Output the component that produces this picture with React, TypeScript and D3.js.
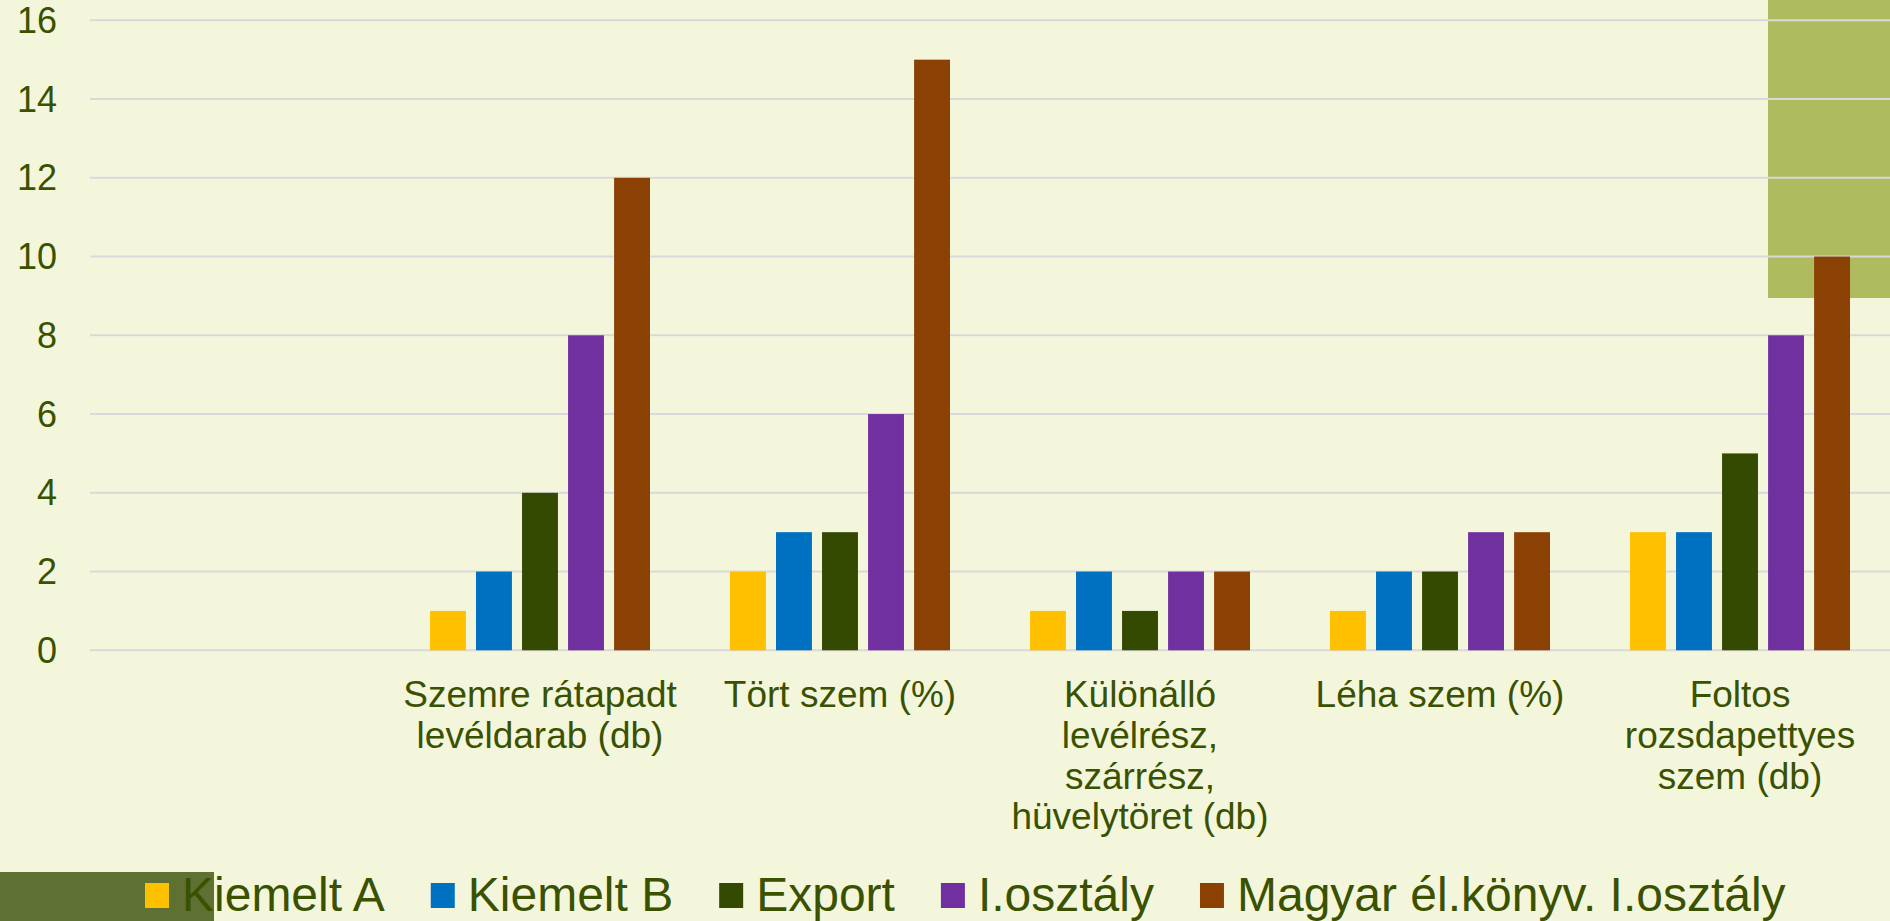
import React, { useRef, useEffect } from 'react';
import * as d3 from 'd3';

// categories (the first slot is empty in the original chart)
const categories = [
  '',
  'Szemre rátapadt levéldarab (db)',
  'Tört szem (%)',
  'Különálló levélrész, szárrész, hüvelytöret (db)',
  'Léha szem (%)',
  'Foltos rozsdapettyes szem (db)',
];
const categoryLines = [
  [],
  ['Szemre rátapadt', 'levéldarab (db)'],
  ['Tört szem (%)'],
  ['Különálló', 'levélrész,', 'szárrész,', 'hüvelytöret (db)'],
  ['Léha szem (%)'],
  ['Foltos', 'rozsdapettyes', 'szem (db)'],
];

const seriesNames = ['Kiemelt A', 'Kiemelt B', 'Export', 'I.osztály', 'Magyar él.könyv. I.osztály'];
const seriesColors = ['#FFC000', '#0070C0', '#334A00', '#7030A0', '#8B4104'];

const kiemeltA = [null, 1, 2, 1, 1, 3];
const kiemeltB = [null, 2, 3, 2, 2, 3];
const exportVals = [null, 4, 3, 1, 2, 5];
const osztaly = [null, 8, 6, 2, 3, 8];
const magyar = [null, 12, 15, 2, 3, 10];

const yTicks = [0, 2, 4, 6, 8, 10, 12, 14, 16];

const W = 1890;
const H = 921;
const FONT = '"Liberation Sans", Arial, sans-serif';
const TEXT = '#3A5200';

const App = () => {
  const ref = useRef(null);

  useEffect(() => {
    const svg = d3.select(ref.current);
    svg.selectAll('*').remove();

    const series = [kiemeltA, kiemeltB, exportVals, osztaly, magyar];

    const x0 = d3.scaleBand().domain(categories).range([90, W]).paddingInner(0.2667).paddingOuter(0.1333);
    const x1 = d3.scaleBand().domain(seriesNames).range([0, x0.bandwidth()]).paddingInner(0.22);
    const y = d3.scaleLinear().domain([0, 16]).range([650.3, 20.3]);

    svg.append('rect').attr('width', W).attr('height', H).attr('fill', '#F4F6DC');

    // decorative block top right
    svg.append('rect').attr('x', 1768).attr('y', 0).attr('width', W - 1768).attr('height', 298).attr('fill', '#B0BA5F');

    // grid
    svg
      .append('g')
      .selectAll('line')
      .data(yTicks)
      .enter()
      .append('line')
      .attr('x1', 90)
      .attr('x2', W)
      .attr('y1', (d) => y(d))
      .attr('y2', (d) => y(d))
      .attr('stroke', '#D9D9D9')
      .attr('stroke-width', 2);

    svg
      .append('g')
      .selectAll('text')
      .data(yTicks)
      .enter()
      .append('text')
      .attr('x', 57)
      .attr('y', (d) => y(d))
      .attr('dy', '0.35em')
      .attr('text-anchor', 'end')
      .style('font-family', FONT)
      .style('font-size', '36px')
      .attr('fill', TEXT)
      .text((d) => d);

    // bars
    const groups = svg
      .append('g')
      .selectAll('g')
      .data(categories)
      .enter()
      .append('g')
      .attr('transform', (d) => `translate(${x0(d)},0)`);

    groups
      .selectAll('rect')
      .data((_, i) => series.map((s, k) => ({ key: seriesNames[k], value: s[i], color: seriesColors[k] })))
      .enter()
      .filter((d) => d.value != null)
      .append('rect')
      .attr('x', (d) => x1(d.key))
      .attr('width', x1.bandwidth())
      .attr('y', (d) => y(d.value))
      .attr('height', (d) => y(0) - y(d.value))
      .attr('fill', (d) => d.color);

    // category labels
    categories.forEach((c, i) => {
      const cx = x0(c) + x0.bandwidth() / 2;
      const t = svg
        .append('text')
        .attr('text-anchor', 'middle')
        .style('font-family', FONT)
        .style('font-size', '37px')
        .attr('fill', TEXT);
      categoryLines[i].forEach((line, j) => {
        t.append('tspan').attr('x', cx).attr('y', 707 + j * 40.8).text(line);
      });
    });

    // decorative block bottom left
    svg.append('rect').attr('x', 0).attr('y', 872).attr('width', 214).attr('height', H - 872).attr('fill', '#5F7033');

    // legend
    let lx = 145;
    seriesNames.forEach((name, k) => {
      svg.append('rect').attr('x', lx).attr('y', 883).attr('width', 24).attr('height', 25).attr('fill', seriesColors[k]);
      const t = svg
        .append('text')
        .attr('x', lx + 37)
        .attr('y', 911)
        .style('font-family', FONT)
        .style('font-size', '48px')
        .attr('fill', TEXT)
        .text(name);
      const w = t.node().getComputedTextLength();
      lx = lx + 37 + w + 46;
    });
  }, []);

  return <svg ref={ref} width={W} height={H} style={{ position: 'absolute', left: 0, top: 0, display: 'block' }}></svg>;
};

export default App;
